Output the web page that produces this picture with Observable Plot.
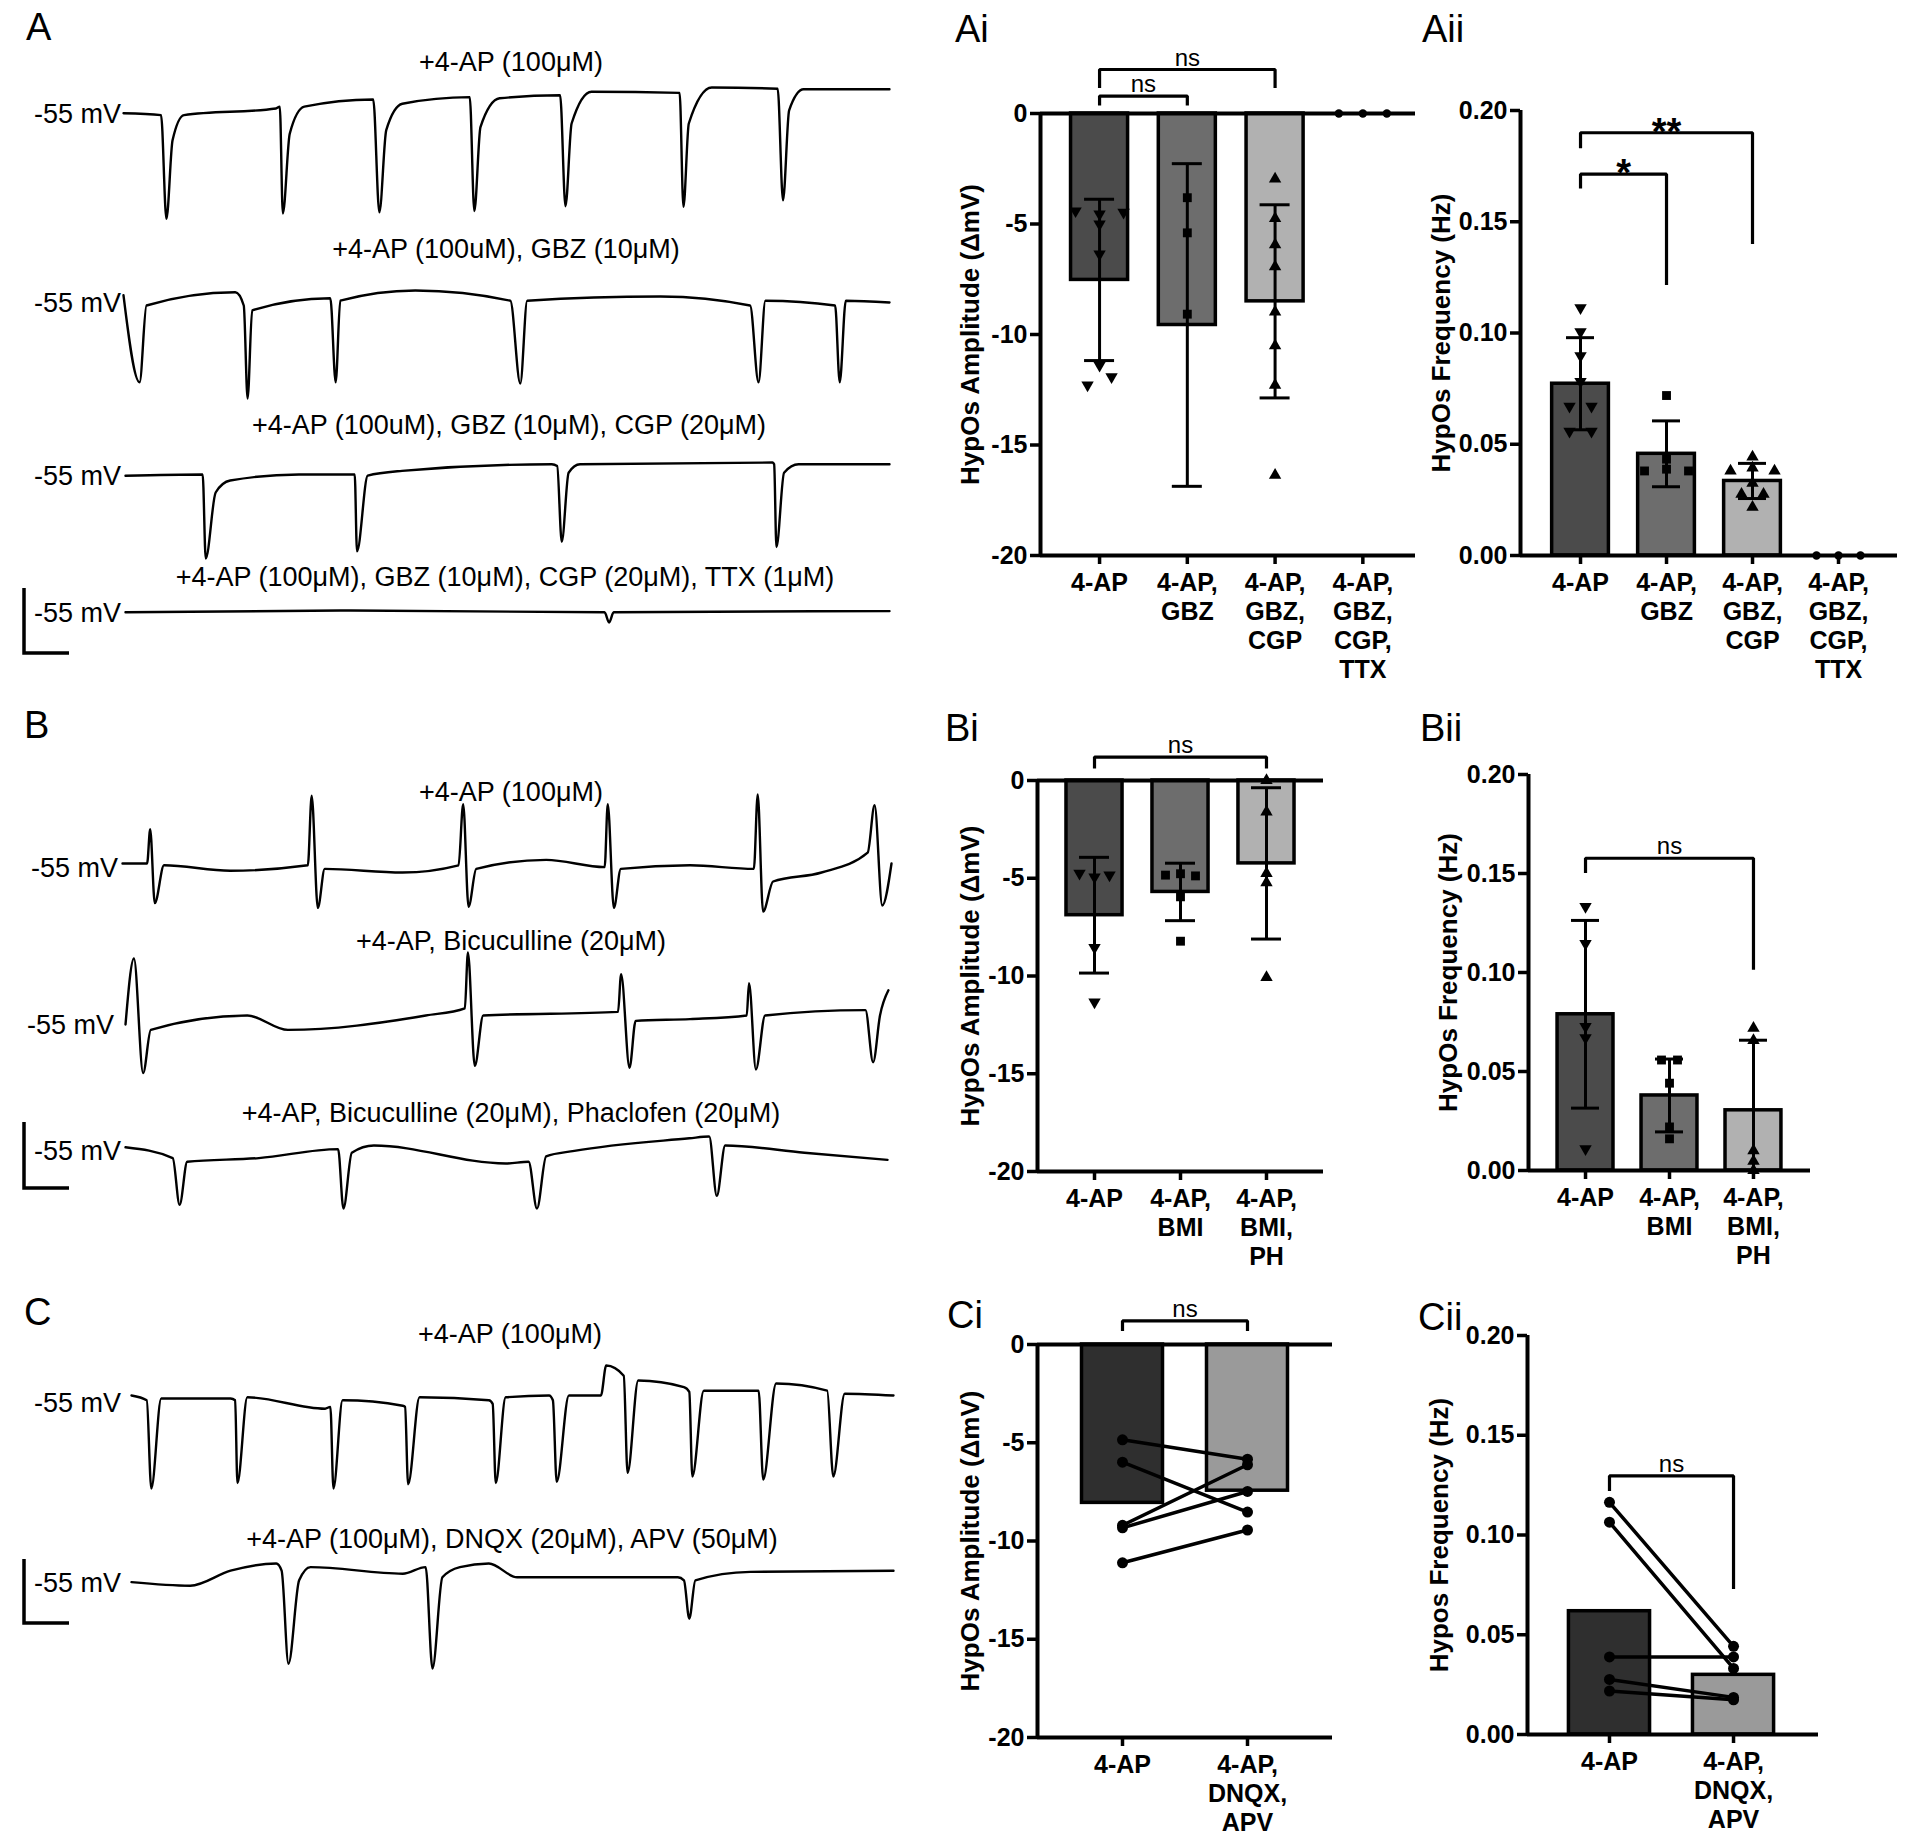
<!DOCTYPE html>
<html><head><meta charset="utf-8">
<script src="https://cdn.jsdelivr.net/npm/d3@7"></script>
<script src="https://cdn.jsdelivr.net/npm/@observablehq/plot@0.6"></script>
<style>
html,body{margin:0;padding:0;background:#fff;}
#page{position:relative;width:1906px;height:1836px;overflow:hidden;background:#fff;font-family:'Liberation Sans',Arial,sans-serif;}
</style></head><body><div id="page"></div>
<script>
// ================= DATA =================
// Panel A summary (Ai amplitude, Aii frequency)
const catsA = ["4-AP", "4-AP,\nGBZ", "4-AP,\nGBZ,\nCGP", "4-AP,\nGBZ,\nCGP,\nTTX"];
const ampMeanA = [-7.53, -9.57, -8.50, 0];
const ampSdA = [3.65, 7.30, 4.37, 0];
const ampPtsA = [
  [-4.41, -4.55, -4.47, -5.00, -6.36, -11.40, -12.29, -11.92],
  [-3.81, -5.40, -9.08],
  [-2.96, -4.75, -5.94, -6.93, -8.98, -10.51, -12.29, -16.37],
  [0, 0, 0]
];
const freqMeanA = [0.0772, 0.0457, 0.0335, 0];
const freqSdA = [0.0207, 0.0148, 0.0079, 0];
const freqPtsA = [
  [0.1113, 0.1005, 0.0897, 0.0782, 0.067, 0.067, 0.0558, 0.0558],
  [0.0719, 0.0433, 0.038, 0.0388, 0.038],
  [0.0443, 0.038, 0.0394, 0.038, 0.0325, 0.0276, 0.0276, 0.0217],
  [0, 0, 0]
];
// Panel B summary
const catsB = ["4-AP", "4-AP,\nBMI", "4-AP,\nBMI,\nPH"];
const ampMeanB = [-6.89, -5.70, -4.24];
const ampSdB = [2.96, 1.47, 3.87];
const ampPtsB = [
  [-4.75, -4.94, -4.84, -8.55, -11.34],
  [-4.84, -4.77, -4.88, -5.95, -8.22],
  [0, -1.61, -4.75, -5.22, -10.07]
];
const freqMeanB = [0.0789, 0.0379, 0.0304];
const freqSdB = [0.0474, 0.0184, 0.0354];
const freqPtsB = [
  [0.1333, 0.1146, 0.0727, 0.067, 0.0109],
  [0.0558, 0.0558, 0.0441, 0.022, 0.016],
  [0.0719, 0.0657, 0.01, 0.0047, 0]
];
// Panel C summary (paired)
const catsC = ["4-AP", "4-AP,\nDNQX,\nAPV"];
const ampMeanC = [-8.06, -7.44];
const ampPairsC = [[-4.85, -5.84], [-5.99, -8.53], [-9.20, -6.12], [-9.33, -7.48], [-11.11, -9.44]];
const freqMeanC = [0.0618, 0.0299];
const freqPairsC = [[0.1164, 0.0442], [0.1064, 0.0331], [0.0389, 0.0389], [0.0276, 0.0186], [0.0218, 0.0174]];

// significance brackets: [fromCat, toCat, barTop, leftLegEnd, rightLegEnd, label]
const sigAi = [[0, 1, 0.79, 0.36, 0.36, "ns"], [0, 2, 1.99, 1.15, 1.15, "ns"]];
const sigAii = [[0, 1, 0.1714, 0.165, 0.1216, "*"], [0, 2, 0.190, 0.183, 0.140, "**"]];
const sigBi = [[0, 2, 1.20, 0.61, 0.61, "ns"]];
const sigBii = [[0, 2, 0.1577, 0.1502, 0.1014, "ns"]];
const sigCi = [[0, 1, 1.20, 0.69, 0.69, "ns"]];
const sigCii = [[0, 1, 0.1296, 0.1221, 0.0729, "ns"]];

const ampTicks = [0, -5, -10, -15, -20];
const freqTicks = [0, 0.05, 0.10, 0.15, 0.20];

const traceA1 = [[0,-55],[4.9,-55.3],[5.6,-72.6],[6.4,-59.5],[7.9,-55.3],[19.9,-54.2],[20.4,-53.9],[20.8,-71.7],[21.7,-58.4],[23.6,-53.9],[32.6,-52.7],[33.4,-71.5],[34.3,-57.8],[36.4,-53.4],[45.2,-52.3],[45.8,-71.3],[46.6,-57.3],[49.1,-52.5],[57.0,-52.0],[57.7,-70.5],[58.5,-56.7],[61.1,-51.4],[72.6,-51.6],[73.1,-70.6],[73.8,-56.7],[76.8,-50.7],[85.4,-50.9],[86.1,-69.5],[86.9,-54.5],[88.8,-51.0],[100,-51.0]];
const traceA2 = [[0,-53.8],[2.1,-68.3],[3.0,-55.5],[14.6,-53.3],[15.7,-55.5],[16.2,-71],[16.8,-56.3],[27.0,-54.3],[27.7,-68.3],[28.3,-54.7],[38.1,-53],[50.5,-54.7],[51.8,-68.5],[52.7,-54.7],[70.1,-54],[81.8,-55.5],[82.9,-68.3],[83.8,-54.7],[92.9,-55.5],[93.5,-68.3],[94.3,-54.7],[100,-55]];
const traceA3 = [[0,-55],[10.1,-54.8],[10.5,-68.8],[11.8,-57.8],[13.7,-55.8],[22.7,-54.8],[30.0,-54.8],[30.3,-67.6],[31.7,-55],[36.2,-54.2],[55.8,-53.1],[56.5,-53.4],[57.1,-66],[58.0,-54.5],[59.5,-53.1],[84.7,-52.8],[84.9,-53.1],[85.2,-66.9],[86.2,-54.5],[88.1,-53.1],[100,-53.1]];
const traceA4 = [[0,-55],[29.5,-54.7],[62.7,-55],[63.3,-56.7],[63.9,-55],[100,-54.8]];
const traceB1 = [[0,-54.4],[3.2,-54.4],[3.6,-48.7],[4.2,-61],[5.4,-54.7],[14.0,-55.6],[24.1,-54.7],[24.6,-43.1],[25.4,-61.8],[26.3,-55.3],[36.4,-55.9],[43.7,-54.7],[44.3,-44.5],[45.0,-61.6],[46.0,-55.3],[55.1,-53.8],[62.7,-55],[63.1,-44.5],[63.9,-61.8],[64.8,-55.3],[73.8,-54.7],[82.1,-55.3],[82.6,-42.9],[83.3,-62.4],[84.6,-57.4],[90.9,-55.9],[96.9,-52.6],[97.8,-44.7],[98.8,-61.4],[100,-54.4]];
const traceB2 = [[0,-55],[1.1,-44],[2.3,-63.1],[3.3,-55.9],[15.9,-53.5],[21.2,-55.9],[39.2,-53.5],[44.3,-52.3],[44.7,-43],[45.6,-61.9],[46.7,-53.5],[64.3,-52.9],[64.7,-46.6],[65.8,-62.2],[66.6,-54.4],[73.7,-54.1],[81.1,-53.5],[81.4,-48.1],[82.3,-62.5],[83.5,-53.5],[96.6,-52.6],[97.6,-61.3],[98.5,-53.5],[99.6,-49.3]];
const traceB3 = [[0,-54.4],[6.2,-56.2],[7.1,-64],[8.1,-56.8],[17.5,-56.2],[27.9,-54.7],[28.6,-64.6],[29.7,-55.3],[32.6,-54.1],[49.9,-57.1],[52.9,-56.8],[54.0,-64.6],[55.2,-55.9],[58.9,-55],[74.0,-52.9],[76.6,-52.6],[77.6,-62.5],[78.7,-54.1],[89.1,-55.3],[100,-56.5]];
const traceC1 = [[0,-53.9],[2.0,-54.7],[2.6,-69.4],[3.9,-54.4],[13.0,-54.4],[13.6,-54.7],[13.9,-68.5],[15.2,-54.2],[25.4,-56.1],[26.1,-55.8],[26.5,-69.4],[27.7,-54.7],[35.6,-55.6],[35.9,-55.8],[36.3,-68.7],[37.8,-54.2],[46.9,-54.7],[47.4,-55.3],[47.8,-68.5],[49.1,-54.2],[54.8,-53.9],[55.3,-54.7],[55.8,-68.3],[57.4,-53.9],[61.6,-53.9],[62.3,-48.9],[64.6,-50.6],[65.1,-66.8],[66.5,-51.4],[72.5,-52.5],[73.2,-53.3],[73.6,-67.4],[75.1,-53.1],[82.3,-53.1],[82.9,-67.9],[84.6,-51.9],[91.3,-53.1],[92.1,-67.4],[93.6,-53.6],[100,-53.9]];
const traceC2 = [[0,-55],[7.7,-55.6],[13.0,-53.1],[19.0,-51.9],[19.7,-53.1],[20.6,-68.6],[22.0,-54.7],[23.5,-52.5],[35.6,-53.6],[38.6,-52.5],[39.5,-69.4],[40.8,-54.2],[43.1,-52.5],[46.9,-51.9],[50.6,-54.2],[71.7,-54.2],[72.5,-54.7],[73.2,-61.1],[74.0,-54.7],[81.2,-53.3],[100,-53.1]];

const traceTitles = [
  "+4-AP (100μM)", "+4-AP (100uM), GBZ (10μM)", "+4-AP (100uM), GBZ (10μM), CGP (20μM)",
  "+4-AP (100μM), GBZ (10μM), CGP (20μM), TTX (1μM)",
  "+4-AP (100μM)", "+4-AP, Bicuculline (20μM)", "+4-AP, Bicuculline (20μM), Phaclofen (20μM)",
  "+4-AP (100μM)", "+4-AP (100μM), DNQX (20μM), APV (50μM)"
];
const traceData = [traceA1, traceA2, traceA3, traceA4, traceB1, traceB2, traceB3, traceC1, traceC2];
const restingLabel = "-55 mV";

// ================= LAYOUT =================
const page = document.getElementById("page");
const FONT = "'Liberation Sans', Arial, Helvetica, sans-serif";
const MV_PX = 6; // px per mV in the traces

// trace placement: [left, width, baselineY, titleX, titleBaseline, labelRight]
const traceLayout = [
  [123, 766, 113, 511, 71, 121],
  [123, 766, 302, 506, 258, 121],
  [125, 764, 475, 509, 434, 121],
  [125, 764, 612, 505, 586, 121],
  [122, 769, 867, 511, 801, 118],
  [125, 766, 1024, 511, 950, 114],
  [125, 762, 1150, 511, 1122, 121],
  [131, 762, 1402, 510, 1343, 121],
  [131, 762, 1582, 512, 1548, 121]
];

function place(el, left, top) {
  el.style.position = "absolute";
  el.style.left = left + "px";
  el.style.top = top + "px";
  el.style.overflow = "visible";
  page.appendChild(el);
}

traceData.forEach((data, k) => {
  const [left, width, base] = traceLayout[k];
  const vs = data.map(d => d[1]);
  const vmin = d3.min(vs) - 1, vmax = d3.max(vs) + 1;
  const height = (vmax - vmin) * MV_PX;
  const top = base - (vmax + 55) * MV_PX;
  const svg = Plot.plot({
    width, height, margin: 0,
    x: {domain: [0, 100], axis: null},
    y: {domain: [vmin, vmax], axis: null},
    style: {background: "transparent", overflow: "visible"},
    marks: [Plot.line(data, {x: d => d[0], y: d => d[1], curve: "monotone-x", stroke: "black", strokeWidth: 2.4, strokeLinejoin: "round"})]
  });
  place(svg, left, top);
});

// ---- bar panels ----
function dodge(vals, pxPerUnit, thr) {
  const order = vals.map((v, k) => k).sort((a, b) => vals[a] - vals[b]);
  const cl = new Array(vals.length);
  let c = -1, prev = null;
  for (const k of order) {
    if (prev === null || Math.abs(vals[k] - prev) * pxPerUnit >= thr) c++;
    cl[k] = c; prev = vals[k];
  }
  const groups = {};
  vals.forEach((v, k) => { (groups[cl[k]] = groups[cl[k]] || []).push(k); });
  const off = new Array(vals.length);
  Object.values(groups).forEach(ks => ks.forEach((k, j) => { off[k] = j - (ks.length - 1) / 2; }));
  return off;
}

const symbolOf = ["down", "square", "up", "circle"];

function barPanel(cfg) {
  const {cats, means, sds, pts, pairs, colors, sig, ylabel, yDomain, yTicks, fmt, L} = cfg;
  const innerW = L.width - L.mL - L.mR, innerH = L.height - L.mT - L.mB;
  const pxPerIdx = innerW / (L.xDomain[1] - L.xDomain[0]);
  const pxPerUnit = innerH / (yDomain[1] - yDomain[0]);
  const bars = means.map((m, i) => ({i, mean: m, sd: sds ? sds[i] : 0})).filter(d => d.mean !== 0);
  const err = bars.filter(d => d.sd > 0).map(d => ({i: d.i, lo: Math.max(d.mean - d.sd, yDomain[0]), hi: d.mean + d.sd}));
  const capIdx = (L.cap || 14) / pxPerIdx;

  const rows = [];
  if (pts) pts.forEach((arr, i) => {
    const off = dodge(arr, pxPerUnit, 9);
    arr.forEach((v, k) => rows.push({i, v, x: i + off[k] * L.spacing / pxPerIdx, sym: symbolOf[i]}));
  });
  const pairRows = [];
  if (pairs) pairs.forEach((p, id) => p.forEach((v, i) => pairRows.push({id, i, v})));

  const brRows = [], brLabels = [];
  sig.forEach(([a, b, topv, l, r, lab], id) => {
    brRows.push({id, x: a, y: l}, {id, x: a, y: topv}, {id, x: b, y: topv}, {id, x: b, y: r});
    brLabels.push({x: (a + b) / 2, y: topv, lab});
  });

  const marks = [
    Plot.rectY(bars, {x1: d => d.i - L.half, x2: d => d.i + L.half, y1: () => 0, y2: d => d.mean,
      fill: d => colors[d.i], stroke: "black", strokeWidth: 3.5}),
    Plot.ruleX([L.xDomain[0]], {y1: () => yDomain[0], y2: () => yDomain[1], stroke: "black", strokeWidth: 4}),
    Plot.ruleY([0], {stroke: "black", strokeWidth: 4}),
  ];
  if (yDomain[0] < 0) marks.push(Plot.ruleY([yDomain[0]], {stroke: "black", strokeWidth: 4}));
  marks.push(
    Plot.ruleX(err, {x: "i", y1: "lo", y2: "hi", stroke: "black", strokeWidth: 3}),
    Plot.ruleY(err, {y: "lo", x1: d => d.i - capIdx, x2: d => d.i + capIdx, stroke: "black", strokeWidth: 3}),
    Plot.ruleY(err, {y: "hi", x1: d => d.i - capIdx, x2: d => d.i + capIdx, stroke: "black", strokeWidth: 3}),
    Plot.dot(rows.filter(d => d.sym === "down"), {x: "x", y: "v", symbol: "triangle", rotate: 180, r: 4.6, fill: "black", stroke: "none"}),
    Plot.dot(rows.filter(d => d.sym === "up"), {x: "x", y: "v", symbol: "triangle", r: 4.6, fill: "black", stroke: "none"}),
    Plot.dot(rows.filter(d => d.sym === "square"), {x: "x", y: "v", symbol: "square", r: 5, fill: "black", stroke: "none"}),
    Plot.dot(rows.filter(d => d.sym === "circle"), {x: "x", y: "v", symbol: "circle", r: 4.2, fill: "black", stroke: "none"}),
    Plot.line(pairRows, {x: "i", y: "v", z: "id", stroke: "black", strokeWidth: 3.5}),
    Plot.dot(pairRows, {x: "i", y: "v", r: 5.5, fill: "black", stroke: "none"}),
    Plot.line(brRows, {x: "x", y: "y", z: "id", stroke: "black", strokeWidth: 3.2, strokeLinejoin: "miter", strokeLinecap: "butt"}),
    Plot.text(brLabels.filter(d => d.lab === "ns"), {x: "x", y: "y", text: "lab", lineAnchor: "bottom", dy: -4, fontSize: 24, fontWeight: "normal"}),
    Plot.text(brLabels.filter(d => d.lab !== "ns"), {x: "x", y: "y", text: "lab", lineAnchor: "middle", dy: 0, fontSize: 38, fontWeight: "bold", letterSpacing: "3px"}),
    Plot.axisY({ticks: yTicks, tickSize: 10, tickPadding: 3, strokeWidth: 3.5, tickFormat: fmt, label: null, fontSize: 25, fontWeight: "bold"}),
    Plot.axisX({ticks: cats.map((c, i) => i), tickSize: 9, strokeWidth: 3.5, tickFormat: () => "", label: null}),
    Plot.text(cats.map((c, i) => i), {x: d => d, text: d => cats[d], frameAnchor: "bottom", lineAnchor: "top", dy: 15, lineHeight: 1.16, fontSize: 25, fontWeight: "bold"}),
    Plot.text([ylabel], {frameAnchor: "left", textAnchor: "middle", lineAnchor: "middle", rotate: -90, dx: -L.labelOff, fontSize: 26, fontWeight: "bold"})
  );
  const svg = Plot.plot({
    width: L.width, height: L.height,
    marginLeft: L.mL, marginRight: L.mR, marginTop: L.mT, marginBottom: L.mB,
    x: {type: "linear", domain: L.xDomain},
    y: {type: "linear", domain: yDomain},
    color: {type: "identity"},
    style: {fontFamily: FONT, fontSize: "25px", color: "black", background: "transparent", overflow: "visible"},
    marks
  });
  place(svg, L.left, L.top);
}

const greysAB = ["#4b4b4b", "#6d6d6d", "#b1b1b1", "#000"];
const greysC = ["#2f2f2f", "#9a9a9a"];
const ampFmt = d => String(d);
const freqFmt = d => d.toFixed(2);

barPanel({cats: catsA, means: ampMeanA, sds: ampSdA, pts: ampPtsA, colors: greysAB, sig: sigAi,
  ylabel: "HypOs Amplitude (ΔmV)", yDomain: [-20, 0], yTicks: ampTicks, fmt: ampFmt,
  L: {left: 940, top: 0, width: 480, height: 690, mL: 100, mR: 5, mT: 113, mB: 135, xDomain: [-0.673, 3.6], half: 0.325, cap: 15, spacing: 24, labelOff: 70}});
barPanel({cats: catsA, means: freqMeanA, sds: freqSdA, pts: freqPtsA, colors: greysAB, sig: sigAii,
  ylabel: "HypOs Frequency (Hz)", yDomain: [0, 0.2], yTicks: freqTicks, fmt: freqFmt,
  L: {left: 1420, top: 0, width: 486, height: 690, mL: 100, mR: 9, mT: 110, mB: 135, xDomain: [-0.698, 3.686], half: 0.33, cap: 14, spacing: 22, labelOff: 79}});
barPanel({cats: catsB, means: ampMeanB, sds: ampSdB, pts: ampPtsB, colors: greysAB, sig: sigBi,
  ylabel: "HypOs Amplitude (ΔmV)", yDomain: [-20, 0], yTicks: ampTicks, fmt: ampFmt,
  L: {left: 940, top: 700, width: 480, height: 580, mL: 97, mR: 97, mT: 80, mB: 109, xDomain: [-0.663, 2.663], half: 0.326, cap: 15, spacing: 15, labelOff: 67}});
barPanel({cats: catsB, means: freqMeanB, sds: freqSdB, pts: freqPtsB, colors: greysAB, sig: sigBii,
  ylabel: "HypOs Frequency (Hz)", yDomain: [0, 0.2], yTicks: freqTicks, fmt: freqFmt,
  L: {left: 1420, top: 700, width: 486, height: 580, mL: 108, mR: 96, mT: 74, mB: 110, xDomain: [-0.679, 2.679], half: 0.333, cap: 14, spacing: 16, labelOff: 80}});
barPanel({cats: catsC, means: ampMeanC, pairs: ampPairsC, colors: greysC, sig: sigCi,
  ylabel: "HypOs Amplitude (ΔmV)", yDomain: [-20, 0], yTicks: ampTicks, fmt: ampFmt,
  L: {left: 940, top: 1280, width: 480, height: 556, mL: 97, mR: 88, mT: 64, mB: 99, xDomain: [-0.68, 1.68], half: 0.324, spacing: 16, labelOff: 67}});
barPanel({cats: catsC, means: freqMeanC, pairs: freqPairsC, colors: greysC, sig: sigCii,
  ylabel: "Hypos Frequency (Hz)", yDomain: [0, 0.2], yTicks: freqTicks, fmt: freqFmt,
  L: {left: 1420, top: 1280, width: 486, height: 556, mL: 107, mR: 88, mT: 55, mB: 102, xDomain: [-0.661, 1.685], half: 0.327, spacing: 16, labelOff: 88}});

// ---- annotation overlay: panel letters, trace titles, resting labels, scale bars ----
const NS = "http://www.w3.org/2000/svg";
const ov = document.createElementNS(NS, "svg");
ov.setAttribute("width", 1906); ov.setAttribute("height", 1836);
ov.style.position = "absolute"; ov.style.left = "0px"; ov.style.top = "0px"; ov.style.pointerEvents = "none";
page.appendChild(ov);
function txt(s, x, y, size, anchor, weight) {
  const t = document.createElementNS(NS, "text");
  t.setAttribute("x", x); t.setAttribute("y", y);
  t.setAttribute("font-family", FONT); t.setAttribute("font-size", size);
  t.setAttribute("text-anchor", anchor || "start");
  t.setAttribute("font-weight", weight || "normal");
  t.setAttribute("fill", "black");
  t.textContent = s; ov.appendChild(t);
}
const panelLetters = [["A", 26, 40], ["B", 24, 738], ["C", 24, 1325], ["Ai", 955, 42], ["Aii", 1422, 42], ["Bi", 945, 741], ["Bii", 1420, 741], ["Ci", 947, 1328], ["Cii", 1418, 1330]];
panelLetters.forEach(([s, x, y]) => txt(s, x, y, 38));
traceTitles.forEach((s, k) => {
  const [, , base, tx, ty, lr] = traceLayout[k];
  txt(s, tx, ty, 27, "middle");
  txt(restingLabel, lr, base + 9.7, 27, "end");
});
[[588, 653], [1122, 1188], [1559, 1623]].forEach(([y1, y2]) => {
  const p = document.createElementNS(NS, "path");
  p.setAttribute("d", `M24,${y1} V${y2} H69`);
  p.setAttribute("fill", "none"); p.setAttribute("stroke", "black"); p.setAttribute("stroke-width", 3.5);
  ov.appendChild(p);
});
</script></body></html>
